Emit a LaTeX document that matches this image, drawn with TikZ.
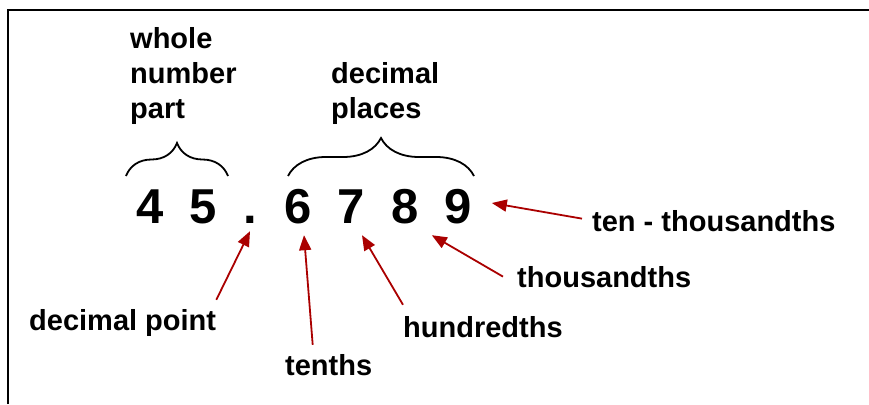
\documentclass[tikz,border=0pt]{standalone}
\usepackage{fontspec}
\setmainfont{Liberation Sans}
\usetikzlibrary{arrows.meta,decorations.pathreplacing}
\definecolor{pointred}{RGB}{170,0,0}
\begin{document}
\begin{tikzpicture}[x=1pt, y=-1pt,
    digit/.style={font=\fontsize{49}{59}\selectfont\bfseries, inner sep=0pt, text height=36pt, text depth=0pt, anchor=base},
    lbl/.style={font=\fontsize{29}{35}\selectfont\bfseries, inner sep=0pt, anchor=base west, align=left},
    pointer/.style={pointred, line width=1.8pt, -{Triangle[length=15pt,width=12pt]}},
    curly/.style={decorate, decoration={brace, amplitude=#1}, line width=1.8pt}]
    \useasboundingbox (0,0) rectangle (869,404);
    \draw[line width=2.6pt] (8,404) |- (869,10);
    %
    \node[digit] (d4) at (150,223) {4};
    \node[digit] (d5) at (203,223) {5};
    \node[digit] (dot) at (250,223) {.};
    \node[digit] (d6) at (298,223) {6};
    \node[digit] (d7) at (351,223) {7};
    \node[digit] (d8) at (405,223) {8};
    \node[digit] (d9) at (458,223) {9};
    %
    \draw[curly=33pt] (126,176) -- (228,176);
    \draw[curly=38pt] (288,176) -- (474,176);
    %
    \node[lbl] (lblwhole) at (130,118) {whole\\number\\part};
    \node[lbl] (lblplaces) at (331,118) {decimal\\places};
    \node[lbl] (lblpoint) at (29,330) {decimal point};
    \node[lbl] (lbltenths) at (285,375) {tenths};
    \node[lbl] (lblhund) at (403,337) {hundredths};
    \node[lbl] (lblthou) at (517,287) {thousandths};
    \node[lbl] (lbltenk) at (592,231) {ten - thousandths};
    %
    \draw[pointer] ([yshift=9pt]lblpoint.north east) -- ([yshift=-8pt]dot.south);
    \draw[pointer] ([xshift=-16pt,yshift=9pt]lbltenths.north) -- ([xshift=6pt,yshift=-12pt]d6.south);
    \draw[pointer] ([yshift=11pt]lblhund.north west) -- ([xshift=11pt,yshift=-12pt]d7.south);
    \draw[pointer] ([xshift=-14pt]lblthou.west) -- ([xshift=13pt,yshift=-12pt]d8.south east);
    \draw[pointer] ([xshift=-10pt,yshift=2pt]lbltenk.west) -- ([xshift=20pt,yshift=2pt]d9.east);
\end{tikzpicture}
\end{document}
